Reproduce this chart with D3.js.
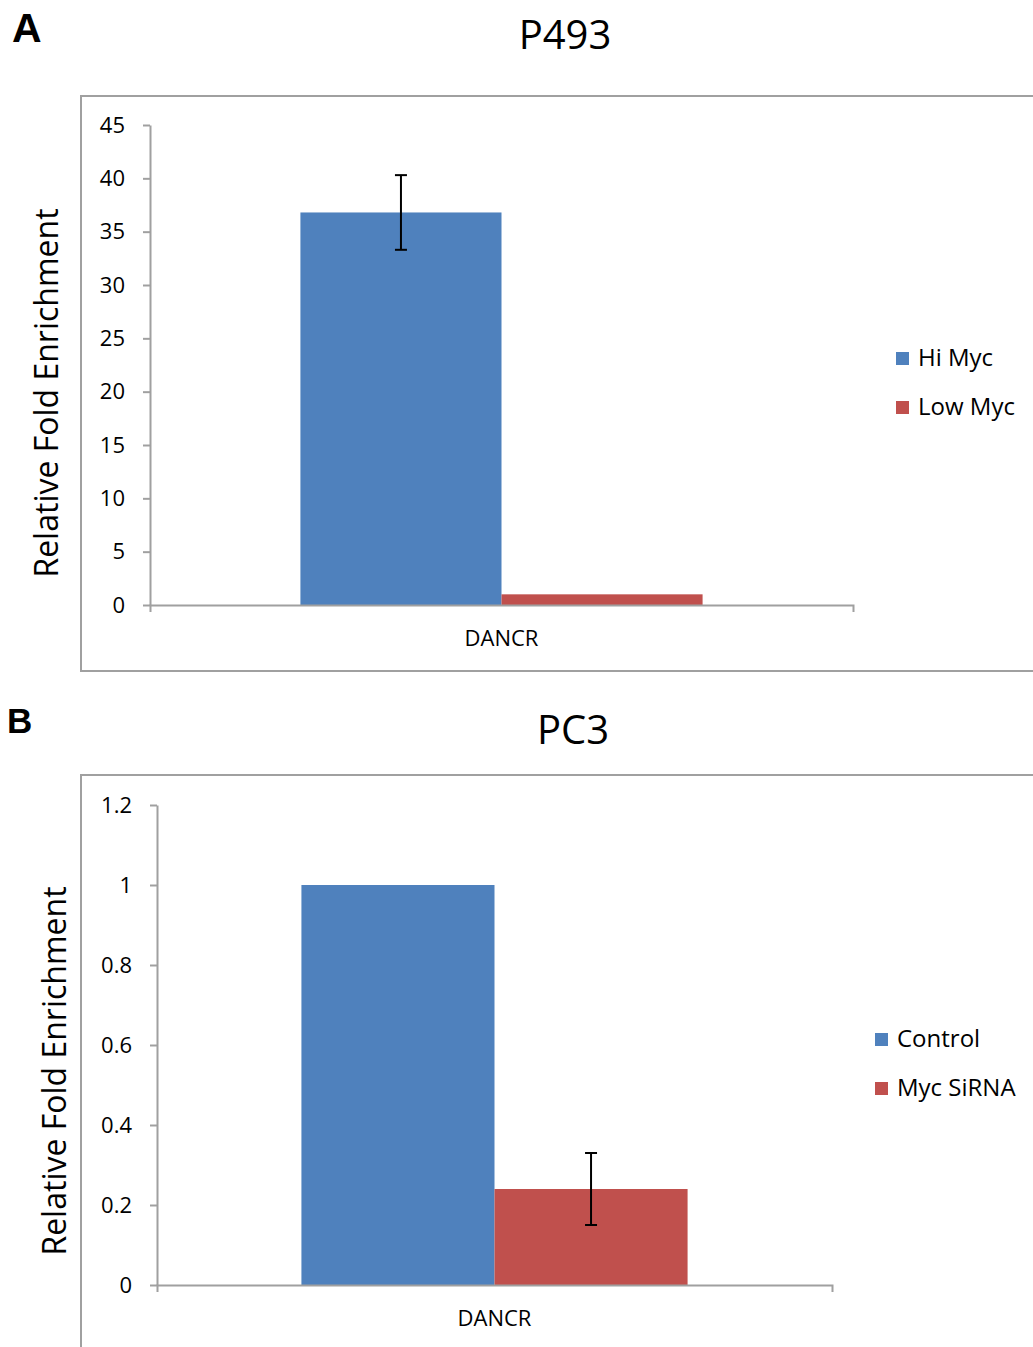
<!DOCTYPE html>
<html>
<head>
<meta charset="utf-8">
<script src="https://cdn.jsdelivr.net/npm/d3@7"></script>
<style>
  body { margin: 0; background: #fff; }
  svg { display: block; font-family: "Open Sans", sans-serif; }
</style>
</head>
<body>
<svg id="chart" width="1033" height="1347"></svg>
<script>
// panel A - P493
const categoriesA = ["DANCR"];
const seriesA = ["Hi Myc", "Low Myc"];
const valuesA = [36.8, 1.0];
const errorsA = [3.5, 0];
const ticksA = [0, 5, 10, 15, 20, 25, 30, 35, 40, 45];

// panel B - PC3
const categoriesB = ["DANCR"];
const seriesB = ["Control", "Myc SiRNA"];
const valuesB = [1.0, 0.24];
const errorsB = [0, 0.09];
const ticksB = [0, 0.2, 0.4, 0.6, 0.8, 1, 1.2];

const colors = ["#4F81BD", "#C0504D"];
const gray = "#A0A0A0";

const svg = d3.select("#chart");

function drawPanel(p) {
  const g = svg.append("g");

  // outer frame (runs off the right edge, like the source)
  g.append("rect")
    .attr("x", p.frame[0]).attr("y", p.frame[1])
    .attr("width", p.frame[2]).attr("height", p.frame[3])
    .attr("fill", "none").attr("stroke", gray).attr("stroke-width", 2);

  g.append("text")
    .attr("x", p.letterPos[0]).attr("y", p.letterPos[1])
    .style("font-family", "'Liberation Sans', Arial, sans-serif")
    .style("font-weight", "bold")
    .style("font-size", p.letterSize + "px")
    .text(p.letter);

  g.append("text")
    .attr("x", p.titlePos[0]).attr("y", p.titlePos[1])
    .attr("text-anchor", "middle")
    .style("font-size", "40px")
    .text(p.title);

  const x = d3.scaleBand().domain(p.categories).range([p.left, p.right])
    .paddingInner(0).paddingOuter(0.374);
  const xs = d3.scaleBand().domain(p.series).range([0, x.bandwidth()]);
  const y = d3.scaleLinear().domain([0, d3.max(p.ticks)]).range([p.bottom, p.top]);

  // y axis
  const yAxis = g.append("g")
    .attr("transform", `translate(${p.left},0)`)
    .call(d3.axisLeft(y).tickValues(p.ticks).tickSizeInner(7).tickSizeOuter(0)
      .tickPadding(18).tickFormat(p.fmt));
  yAxis.selectAll("path, line").attr("stroke", gray).attr("stroke-width", 2);
  yAxis.selectAll("text").style("font-size", "22px").attr("fill", "#000")
    .style("font-family", "'Open Sans', sans-serif");

  // bars
  const cat = p.categories[0];
  const bars = p.series.map((s, i) => ({ s, v: p.values[i], e: p.errors[i], c: colors[i] }));
  g.selectAll(".bar").data(bars).enter().append("rect")
    .attr("class", "bar")
    .attr("x", d => x(cat) + xs(d.s))
    .attr("width", xs.bandwidth())
    .attr("y", d => y(d.v))
    .attr("height", d => y(0) - y(d.v))
    .attr("fill", d => d.c);

  // x axis
  const xAxis = g.append("g")
    .attr("transform", `translate(0,${p.bottom})`)
    .call(d3.axisBottom(x).tickSizeInner(0).tickSizeOuter(7).tickPadding(25));
  xAxis.selectAll("path").attr("stroke", gray).attr("stroke-width", 2);
  xAxis.selectAll("text").style("font-size", "22px").attr("fill", "#000")
    .style("font-family", "'Open Sans', sans-serif");

  // error bars
  const eb = bars.filter(d => d.e > 0);
  const cap = 6;
  eb.forEach(d => {
    const cx = x(cat) + xs(d.s) + xs.bandwidth() / 2;
    const eg = g.append("g").attr("stroke", "#000").attr("stroke-width", 2);
    eg.append("line").attr("x1", cx).attr("x2", cx).attr("y1", y(d.v + d.e)).attr("y2", y(d.v - d.e));
    eg.append("line").attr("x1", cx - cap).attr("x2", cx + cap).attr("y1", y(d.v + d.e)).attr("y2", y(d.v + d.e));
    eg.append("line").attr("x1", cx - cap).attr("x2", cx + cap).attr("y1", y(d.v - d.e)).attr("y2", y(d.v - d.e));
  });

  // y title
  g.append("text")
    .attr("transform", `translate(${p.yTitlePos[0]},${p.yTitlePos[1]}) rotate(-90)`)
    .attr("text-anchor", "middle")
    .style("font-size", "32px")
    .text("Relative Fold Enrichment");

  // legend
  const lg = g.append("g").attr("transform", `translate(${p.legendPos[0]},${p.legendPos[1]})`);
  p.series.forEach((s, i) => {
    lg.append("rect").attr("x", 0).attr("y", i * 49 - 13).attr("width", 13).attr("height", 13)
      .attr("fill", colors[i]);
    lg.append("text").attr("x", 22).attr("y", i * 49 + 1).style("font-size", "24px").text(s);
  });
}

drawPanel({
  letter: "A", letterPos: [12, 42], letterSize: 41,
  title: "P493", titlePos: [565, 49],
  frame: [81, 96, 1000, 575],
  categories: categoriesA, series: seriesA, values: valuesA, errors: errorsA, ticks: ticksA,
  fmt: d3.format("d"),
  left: 150, right: 853, top: 125, bottom: 605,
  yTitlePos: [58, 393],
  legendPos: [896, 365]
});

drawPanel({
  letter: "B", letterPos: [7, 733], letterSize: 35,
  title: "PC3", titlePos: [573, 744],
  frame: [81, 775, 1000, 600],
  categories: categoriesB, series: seriesB, values: valuesB, errors: errorsB, ticks: ticksB,
  fmt: d => d3.format(".1f")(d).replace(/\.0$/, ""),
  left: 157, right: 832, top: 805, bottom: 1285,
  yTitlePos: [66, 1071],
  legendPos: [875, 1046]
});
</script>
</body>
</html>
